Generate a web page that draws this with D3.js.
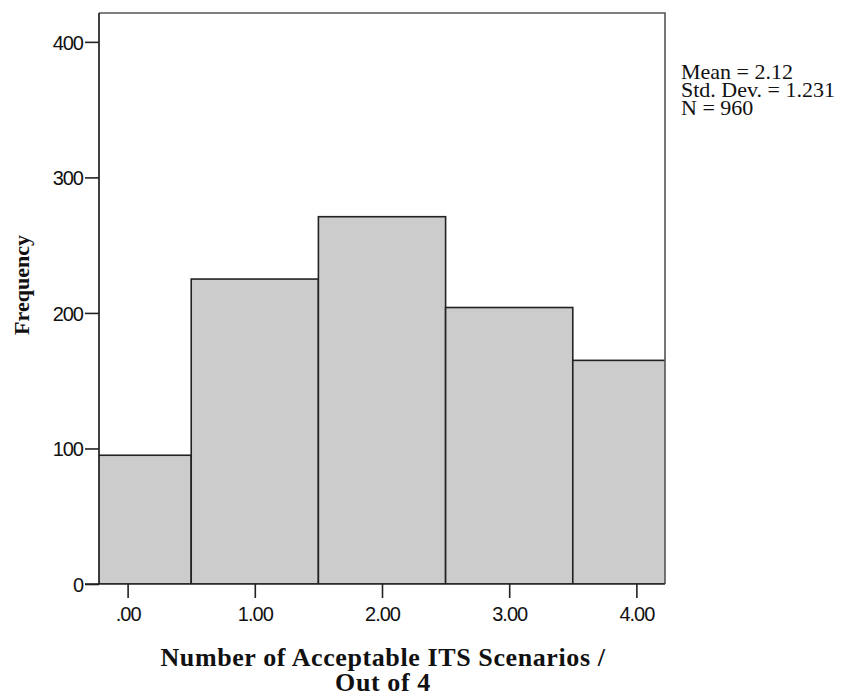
<!DOCTYPE html>
<html>
<head>
<meta charset="utf-8">
<script src="https://cdn.jsdelivr.net/npm/d3@7"></script>
<style>
  html, body { margin: 0; padding: 0; background: #fff; }
  svg { display: block; }
</style>
</head>
<body>
<svg id="chart" width="841" height="696"></svg>
<script>
// Histogram: number of acceptable ITS scenarios (out of 4)
const categories = [0, 1, 2, 3, 4];
const frequencies = [95, 225, 271, 204, 165];
const xTickLabels = [".00", "1.00", "2.00", "3.00", "4.00"];
const yTicks = [0, 100, 200, 300, 400];
const statsLines = ["Mean = 2.12", "Std. Dev. = 1.231", "N = 960"];
const xTitleLines = ["Number of Acceptable ITS Scenarios /", "Out of 4"];
const yTitle = "Frequency";

const svg = d3.select("#chart");
const plotLeft = 99, plotRight = 665, plotTop = 13, plotBottom = 584;

const x = d3.scaleLinear().domain([-0.225, 4.225]).range([plotLeft, plotRight]);
const y = d3.scaleLinear().domain([0, 421.3]).range([plotBottom, plotTop]);

svg.append("clipPath").attr("id", "plotClip")
  .append("rect").attr("x", plotLeft).attr("y", plotTop)
  .attr("width", plotRight - plotLeft).attr("height", plotBottom - plotTop);

// bars, one per integer category, clipped to the plot frame
svg.append("g").attr("clip-path", "url(#plotClip)")
  .selectAll("rect").data(categories).join("rect")
  .attr("x", d => x(d - 0.5))
  .attr("width", d => x(d + 0.5) - x(d - 0.5))
  .attr("y", (d, i) => y(frequencies[i]))
  .attr("height", (d, i) => y(0) - y(frequencies[i]))
  .attr("fill", "#cccccc")
  .attr("stroke", "#222")
  .attr("stroke-width", 1.6);

// frame top and right
svg.append("path")
  .attr("d", `M${plotLeft},${plotTop}H${plotRight}V${plotBottom}`)
  .attr("fill", "none").attr("stroke", "#555").attr("stroke-width", 1.6);

const tickFont = "'Liberation Sans', Arial, sans-serif";

// y axis
const yAxis = svg.append("g").attr("transform", `translate(${plotLeft},0)`)
  .call(d3.axisLeft(y).tickValues(yTicks).tickSize(14).tickPadding(2).tickSizeOuter(0));
yAxis.select(".domain").attr("stroke", "#111").attr("stroke-width", 1.6)
  .attr("d", `M0,${plotTop}V${plotBottom}`);
yAxis.selectAll(".tick line").attr("stroke", "#222").attr("stroke-width", 1.6);
yAxis.selectAll(".tick text").attr("font-family", tickFont).attr("font-size", 20)
  .attr("letter-spacing", "-1px").attr("fill", "#111").attr("dy", "0.36em");

// x axis
const xAxis = svg.append("g").attr("transform", `translate(0,${plotBottom})`)
  .call(d3.axisBottom(x).tickValues(categories).tickSize(14).tickPadding(9)
    .tickFormat((d, i) => xTickLabels[i]).tickSizeOuter(0));
xAxis.select(".domain").attr("stroke", "#222").attr("stroke-width", 1.6)
  .attr("d", `M${plotLeft - 14},0H${plotRight}`);
xAxis.selectAll(".tick line").attr("stroke", "#222").attr("stroke-width", 1.6);
xAxis.selectAll(".tick text").attr("font-family", tickFont).attr("font-size", 20)
  .attr("letter-spacing", "-1px").attr("fill", "#111");

const serif = "'Liberation Serif', 'Times New Roman', serif";

// summary statistics
svg.append("g").selectAll("text").data(statsLines).join("text")
  .attr("x", 681).attr("y", (d, i) => 79 + i * 18)
  .attr("font-family", serif).attr("font-size", 22).attr("fill", "#111")
  .text(d => d);

// x title
svg.append("g").selectAll("text").data(xTitleLines).join("text")
  .attr("x", 383).attr("y", (d, i) => 666 + i * 25)
  .attr("text-anchor", "middle")
  .attr("font-family", serif).attr("font-weight", "bold").attr("font-size", 26)
  .attr("letter-spacing", "0.6px")
  .attr("fill", "#111").text(d => d);

// y title
svg.append("text")
  .attr("transform", "translate(29,285) rotate(-90)")
  .attr("text-anchor", "middle")
  .attr("font-family", serif).attr("font-weight", "bold").attr("font-size", 22)
  .attr("fill", "#111").text(yTitle);
</script>
</body>
</html>
